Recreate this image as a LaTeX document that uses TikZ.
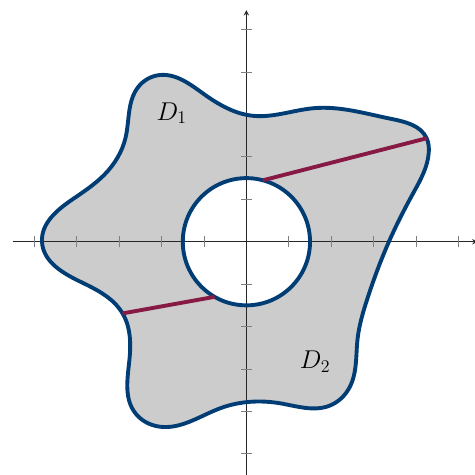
\documentclass[tikz,border=0pt]{standalone}
\usepackage{amsmath}
\usepackage{amssymb}
\usepackage{pgfplots}
\pgfplotsset{compat=1.18}
\usetikzlibrary{hobby}

\definecolor{rimblue}{RGB}{0,61,116}
\definecolor{chordred}{RGB}{134,26,68}

\begin{document}
\begin{tikzpicture}[>=stealth, every node/.style={font=\fontsize{18.5}{20}\selectfont},
    tickmark/.style={gray, line width=0.6pt},
    rim/.style={rimblue, line width=2.6pt},
    chord/.style={chordred, line width=2.6pt}]
        \useasboundingbox (-5.81,-5.50) rectangle (5.37,5.70);
        % region between the outer curve and the disc
        \path[save path=\regionpath] plot[closed hobby] coordinates {
            (3.36,0) (3.93,1.14) (4.30,2.10) (4.25,2.44) (3.40,2.90) (1.60,3.15)
            (0.15,2.97) (-1.0,3.48) (-2.05,3.93) (-2.55,3.65) (-2.85,2.45)
            (-3.35,1.58) (-4.10,1.00) (-4.82,0) (-3.90,-0.95) (-2.92,-1.69)
            (-2.76,-2.80) (-2.65,-4.00) (-2.05,-4.36) (-0.60,-3.92) (0.80,-3.81)
            (1.95,-3.87) (2.44,-3.42) (2.62,-2.30) (2.85,-1.35)}
            (0,0) circle (1.5);
        \fill[black!20, even odd rule, use path=\regionpath];
        % axes
        \draw[->, black!85, line width=0.6pt] (-5.51,0) -- (5.45,0);
        \draw[->, black!85, line width=0.6pt] (0,-5.6) -- (0,5.46);
        \foreach \k in {-5,...,-1,1,2,...,5} {
            \draw[tickmark] (\k,-0.13) -- (\k,0.13);
            \draw[tickmark] (-0.13,\k) -- (0.13,\k);
        }
        \draw[rim, use path=\regionpath];
        % chords from the disc to the outer curve
        \coordinate (p1) at (75:1.5);
        \coordinate (q1) at (4.25,2.44);
        \coordinate (p2) at (240:1.5);
        \coordinate (q2) at (-2.92,-1.69);
        \draw[chord] (p1) -- (q1);
        \draw[chord] (p2) -- (q2);
        \node (d1) at (-1.76,3.03) {$D_1$};
        \node (d2) at (1.62,-2.83) {$D_2$};
    \end{tikzpicture}
\end{document}
